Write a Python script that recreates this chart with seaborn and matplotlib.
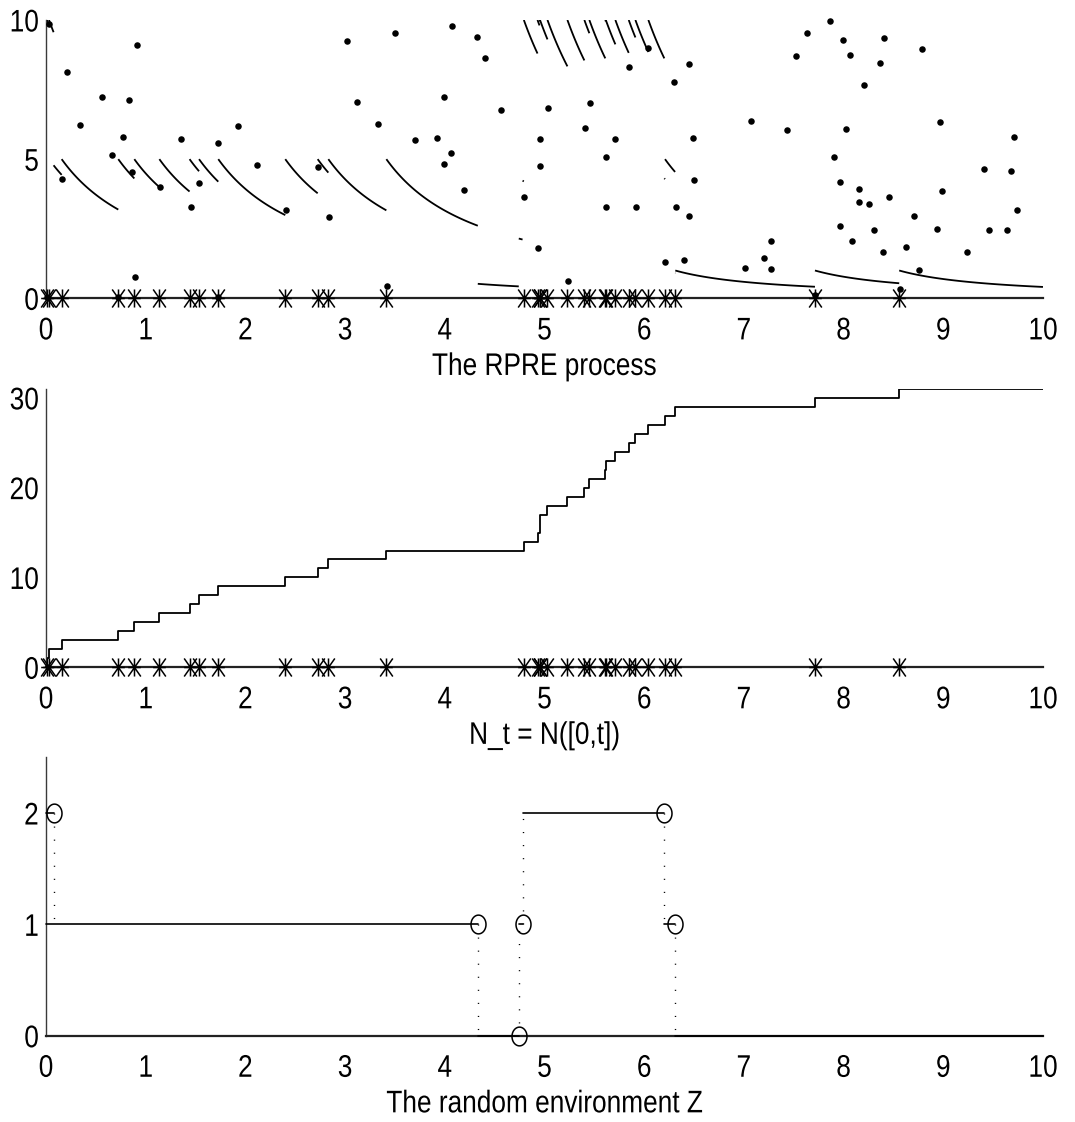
import numpy as np
import pandas as pd
import matplotlib
matplotlib.use("Agg")
import matplotlib.pyplot as plt
from matplotlib.path import Path
from matplotlib.patheffects import AbstractPathEffect
from matplotlib.transforms import Affine2D
import seaborn as sns

# ---------------- data ----------------
# arrival (jump) times of N : stars and steps
arrival_times = [0.010, 0.030, 0.157, 0.725, 0.886, 1.137, 1.440, 1.535, 1.728, 2.400,
                 2.725, 2.832, 3.414, 4.793, 4.930, 4.950, 4.955, 5.030, 5.230, 5.400,
                 5.450, 5.610, 5.615, 5.711, 5.845, 5.912, 6.042, 6.209, 6.312, 7.713, 8.558]

# points of the planar point process (dots)
point_t = [0.010, 0.030, 0.160, 0.207, 0.341, 0.562, 0.659, 0.725, 0.769, 0.832,
           0.863, 0.893, 0.909, 1.143, 1.351, 1.451, 1.531, 1.725, 1.728, 1.923,
           2.116, 2.407, 2.728, 2.838, 3.022, 3.116, 3.327, 3.417, 3.504, 3.701,
           3.922, 3.992, 3.992, 4.065, 4.076, 4.196, 4.320, 4.403, 4.564, 4.798,
           4.931, 4.958, 4.958, 5.035, 5.232, 5.403, 5.456, 5.614, 5.617, 5.711,
           5.848, 5.915, 6.041, 6.209, 6.296, 6.316, 6.400, 6.450, 6.453, 6.490,
           6.500, 7.011, 7.074, 7.205, 7.275, 7.275, 7.432, 7.523, 7.636, 7.716,
           7.864, 7.904, 7.961, 7.964, 7.991, 8.027, 8.067, 8.084, 8.151, 8.158,
           8.204, 8.255, 8.305, 8.362, 8.392, 8.405, 8.452, 8.562, 8.622, 8.702,
           8.760, 8.783, 8.940, 8.967, 8.987, 9.238, 9.408, 9.462, 9.639, 9.679,
           9.709, 9.742]
point_y = [0.05, 9.85, 4.28, 8.14, 6.24, 7.22, 5.15, 0.06, 5.78, 7.13,
           4.55, 0.77, 9.10, 4.01, 5.72, 3.27, 4.15, 5.58, 0.06, 6.19,
           4.78, 3.16, 4.72, 2.92, 9.26, 7.04, 6.25, 0.44, 9.52, 5.69,
           5.76, 7.22, 4.81, 5.22, 9.78, 3.89, 9.38, 8.63, 6.75, 3.64,
           1.82, 4.75, 5.74, 6.84, 0.61, 6.12, 7.03, 3.29, 5.09, 5.72,
           8.31, 3.29, 8.98, 1.32, 7.76, 3.28, 1.39, 2.95, 8.43, 5.76,
           4.26, 1.09, 6.38, 1.45, 2.06, 1.06, 6.05, 8.71, 9.52, 0.12,
           9.95, 5.09, 2.59, 4.19, 9.29, 6.08, 8.75, 2.07, 3.47, 3.94,
           7.68, 3.40, 2.47, 8.44, 1.66, 9.35, 3.65, 0.35, 1.83, 2.95,
           1.01, 8.95, 2.48, 6.35, 3.84, 1.68, 4.65, 2.47, 2.44, 4.56,
           5.79, 3.16]

# random environment Z: drawn segments
env_start = [0.0, 0.0, 4.331, 4.742, 4.780, 6.202, 6.310]
env_end = [0.076, 4.331, 4.742, 4.780, 6.202, 6.310, 10.0]
env_value = [2, 1, 0, 1, 2, 1, 0]
# intensity level attached to each state of Z (0, 1, 2)
rate_level = [1.0, 5.0, 10.0]

x_ticks = [0, 1, 2, 3, 4, 5, 6, 7, 8, 9, 10]
top_yticks = [0, 5, 10]
mid_yticks = [0, 10, 20, 30]
bot_yticks = [0, 1, 2]
panel_labels = ["The RPRE process", "N_t = N([0,t])", "The random environment Z"]

# ---------------- style ----------------
sns.set_theme(style="white")
plt.rcParams["font.family"] = ["Liberation Sans", "DejaVu Sans"]

FS = 22.5
SX = 0.84  # the reference lettering is condensed


class Condense(AbstractPathEffect):
    """Draw a text horizontally condensed around an anchor (text stays a Text artist)."""

    def __init__(self, sx=SX, anchor="center"):
        super().__init__()
        self.sx = sx
        self.anchor = anchor

    def draw_path(self, renderer, gc, tpath, affine, rgbFace=None):
        ext = tpath.get_extents()
        if self.anchor == "center":
            gx = 0.5 * (ext.x0 + ext.x1)
        elif self.anchor == "right":
            gx = ext.x1
        else:
            gx = ext.x0
        px, py = affine.transform((gx, 0.0))
        new = affine + Affine2D().translate(-px, -py).scale(self.sx, 1.0).translate(px, py)
        renderer.draw_path(gc, tpath, new, rgbFace)


star_path = Path([(0, -1), (0, 1), (-0.7, -1), (0.7, 1), (-0.7, 1), (0.7, -1), (-0.7, 0), (0.7, 0)],
                 [Path.MOVETO, Path.LINETO] * 4)
th = np.linspace(0, 2 * np.pi, 61)
ell_path = Path(np.column_stack([0.8 * np.cos(th), np.sin(th)]), closed=True)

fig = plt.figure(figsize=(10.75, 11.22), dpi=100)
fig.patch.set_facecolor("white")
L, W, H = 0.0428, 0.9274, 0.2481
ax1 = fig.add_axes([L, 0.7341, W, H])
ax2 = fig.add_axes([L, 0.4053, W, H])
ax3 = fig.add_axes([L, 0.0769, W, H])


def style_axis(ax, yticks, ylim, label):
    ax.set_xlim(0, 10)
    ax.set_ylim(*ylim)
    ax.set_xticks(x_ticks)
    ax.set_xticklabels([str(v) for v in x_ticks])
    ax.set_yticks(yticks)
    ax.set_yticklabels([str(v) for v in yticks])
    for s in ["top", "right"]:
        ax.spines[s].set_visible(False)
    ax.spines["left"].set_color("#3a3a3a")
    ax.spines["left"].set_linewidth(1.0)
    ax.spines["bottom"].set_color("#222222")
    ax.spines["bottom"].set_linewidth(1.6)
    ax.tick_params(axis="x", direction="in", length=8.8, width=1.0, color="#444444",
                   labelsize=FS, pad=13, labelcolor="black")
    ax.tick_params(axis="y", direction="in", length=7.2, width=1.0, color="#444444",
                   labelsize=FS, pad=5, labelcolor="black")
    ax.set_xlabel(label, fontsize=FS, labelpad=4, color="black")
    ax.xaxis.label.set_path_effects([Condense(SX, "center")])
    ax.set_ylabel("")
    for lab in ax.get_xticklabels():
        lab.set_path_effects([Condense(SX, "center")])
    for lab in ax.get_yticklabels():
        lab.set_path_effects([Condense(SX, "right")])
    ax.grid(False)
    ax.set_facecolor("white")


zeros = np.zeros(len(arrival_times))


def env_at(t):
    for b, z in zip(env_end, env_value):
        if t < b:
            return z
    return env_value[-1]


# ---------------- panel 1 : the RPRE process ----------------
breaks = sorted(set([0.0] + arrival_times + env_end))
for a, b in zip(breaks[:-1], breaks[1:]):
    z = env_at(0.5 * (a + b))
    prev = [s for s in arrival_times if s <= a + 1e-12]
    t_last = prev[-1] if prev else 0.0
    tt = np.linspace(a, b, 40)
    lam = rate_level[z] / (1.0 + tt - t_last)
    ax1.plot(tt, lam, color="black", lw=1.3, solid_capstyle="butt")

sns.scatterplot(x=point_t, y=point_y, ax=ax1, color="black", s=22, linewidth=0,
                clip_on=False, zorder=4)
ax1.plot(arrival_times, zeros, linestyle="none", marker=star_path, markersize=13,
         mec="black", mfc="none", mew=1.1, clip_on=False, zorder=5)
style_axis(ax1, top_yticks, (0, 10), panel_labels[0])

# ---------------- panel 2 : counting process ----------------
step_df = pd.DataFrame({"t": [0.0] + arrival_times + [10.0],
                        "N": list(range(len(arrival_times) + 1)) + [len(arrival_times)]})
sns.lineplot(data=step_df, x="t", y="N", ax=ax2, color="black", lw=1.3,
             drawstyle="steps-post", estimator=None, sort=False)
ax2.plot(arrival_times, zeros, linestyle="none", marker=star_path, markersize=13,
         mec="black", mfc="none", mew=1.1, clip_on=False, zorder=5)
style_axis(ax2, mid_yticks, (0, 31), panel_labels[1])

# ---------------- panel 3 : random environment ----------------
for i, (a, b, z) in enumerate(zip(env_start, env_end, env_value)):
    ax3.plot([a, b], [z, z], color="black", lw=1.2, clip_on=False, zorder=3)
    if i < len(env_value) - 1:
        znext = env_value[i + 1]
        ax3.plot([b, b], [z, znext], color="black", lw=1.0, linestyle=(0, (0.8, 8.6)),
                 clip_on=False, zorder=2)
        ax3.plot([b], [z], linestyle="none", marker=ell_path, markersize=13.5,
                 mec="black", mfc="none", mew=1.1, clip_on=False, zorder=4)
style_axis(ax3, bot_yticks, (0, 2.5), panel_labels[2])

fig.savefig("out.png", dpi=100, facecolor="white")
